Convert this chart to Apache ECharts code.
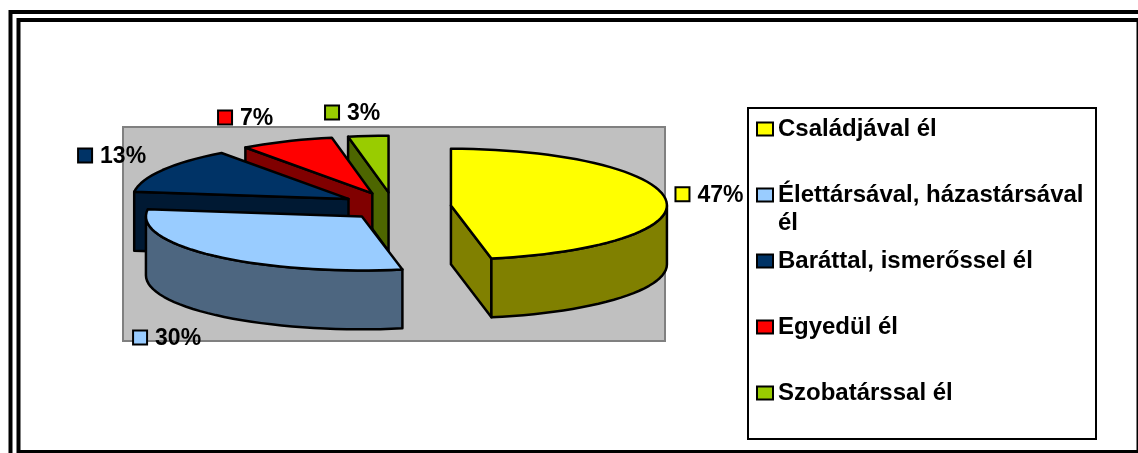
<!DOCTYPE html>
<html>
<head>
<meta charset="utf-8">
<style>
  html, body { margin: 0; padding: 0; background: #fff; }
  #chart { width: 1138px; height: 453px; }
</style>
<script src="https://cdn.jsdelivr.net/npm/echarts@6/dist/echarts.min.js"></script>
</head>
<body>
<div id="chart"></div>
<script>
// adatok
var categories = ['Családjával él', 'Élettársával, házastársával\nél', 'Baráttal, ismerőssel él', 'Egyedül él', 'Szobatárssal él'];
var values = [47, 30, 13, 7, 3];
var topColors = ['#FFFF00', '#99CCFF', '#003366', '#FF0000', '#99CC00'];
var wallColors = ['#808000', '#4D6680', '#001933', '#800000', '#4D6600'];
// a cimke eltolasa a szelet ivetol, pixelben
var labelShift = [[17.5, -6], [-72, 81.6], [-79.5, -17], [-64.5, -27.4], [-39.2, -27.2]];
// kis igazitas a szeleteken, pixelben
var sliceNudge = [[1, 0], [2, 0], [-2, -1], [-3, -1], [-3, -1]];

var FONT = '"Liberation Sans", Arial, sans-serif';
var explode = 0.248;
var depth = 1.09;
var backStretch = 1.05;   // a hatso fel kicsit magasabb, mint a reszben perspektivikus eredeti
var total = values.reduce(function (a, b) { return a + b; }, 0);
var RAD = Math.PI / 180;

function sliceAngles(i) {
  var before = 0;
  for (var k = 0; k < i; k++) before += values[k];
  return [before / total * 360, (before + values[i]) / total * 360];
}

function rimPoint(a, ox, oy, drop) {
  var c = Math.cos(a);
  return [ox + Math.sin(a), oy + (c > 0 ? c * backStretch : c) - drop];
}

function arcPoints(a0, a1, ox, oy, drop) {
  var pts = [];
  var n = Math.max(2, Math.ceil((a1 - a0) / 3));
  for (var k = 0; k <= n; k++) {
    pts.push(rimPoint((a0 + (a1 - a0) * k / n) * RAD, ox, oy, drop));
  }
  return pts;
}

function renderSlice(params, api) {
  var i = params.seriesIndex;
  var ang = sliceAngles(i);
  var a0 = ang[0], a1 = ang[1];
  var mid = (a0 + a1) / 2 * RAD;
  var ox = explode * Math.sin(mid);
  var oy = explode * Math.cos(mid);
  var children = [];
  var nx = sliceNudge[i][0], ny = sliceNudge[i][1];

  function poly(points, fill) {
    children.push({
      type: 'polygon',
      shape: {
        points: points.map(function (p) {
          var c = api.coord(p);
          return [c[0] + nx, c[1] + ny];
        })
      },
      style: { fill: fill, stroke: '#000', lineWidth: 2.5, lineJoin: 'round' }
    });
  }

  // oldalfal a latszo sugarnal
  var wallAngle = Math.sin(a1 * RAD) > 0 && a1 < 180 ? a1 : (Math.sin(a0 * RAD) < 0 ? a0 : null);
  if (wallAngle !== null) {
    var rim = rimPoint(wallAngle * RAD, ox, oy, 0);
    poly([[ox, oy], rim, [rim[0], rim[1] - depth], [ox, oy - depth]], wallColors[i]);
  }
  // kulso iv fala
  var from = Math.max(a0, 90), to = Math.min(a1, 270);
  if (to > from) {
    poly(arcPoints(from, to, ox, oy, 0).concat(arcPoints(from, to, ox, oy, depth).reverse()), wallColors[i]);
  }
  // teteje
  poly([[ox, oy]].concat(arcPoints(a0, a1, ox, oy, 0)), topColors[i]);

  // cimke jelkulccsal
  var anchor = api.coord([ox + Math.sin(mid), oy + Math.cos(mid)]);
  var kx = anchor[0] + labelShift[i][0];
  var ky = anchor[1] + labelShift[i][1];
  children.push({
    type: 'rect',
    shape: { x: kx - 7, y: ky - 7, width: 14, height: 14 },
    style: { fill: topColors[i], stroke: '#000', lineWidth: 2 }
  });
  children.push({
    type: 'text',
    style: {
      text: api.value(2) + '%',
      x: kx + 15,
      y: ky + 1,
      fill: '#000',
      font: 'bold 23px ' + FONT,
      verticalAlign: 'middle'
    }
  });
  return { type: 'group', children: children };
}

var myChart = echarts.init(document.getElementById('chart'));

var option = {
  animation: false,
  backgroundColor: '#fff',
  grid: {
    show: true,
    left: 123, top: 127, width: 542, height: 214,
    backgroundColor: '#C0C0C0',
    borderColor: '#808080',
    borderWidth: 2
  },
  xAxis: { type: 'value', show: false, min: -1.2667, max: 1.2426 },
  yAxis: { type: 'value', show: false, min: -2.4870, max: 1.4759 },
  legend: {
    orient: 'vertical',
    left: 756,
    top: 84,
    z: 10,
    icon: 'rect',
    itemWidth: 16,
    itemHeight: 13,
    itemGap: -24,
    selectedMode: false,
    padding: 0,
    itemStyle: { borderColor: '#000', borderWidth: 2 },
    textStyle: { color: '#000', fontFamily: FONT, fontWeight: 'bold', fontSize: 24, lineHeight: 28, padding: [6, 0, 0, 0] },
    data: categories,
    // ures sor kell, hogy a jel az elso sorral egy vonalban maradjon
    formatter: function (name) {
      return ' \n' + name + (name.indexOf('\n') >= 0 ? '' : '\n ');
    }
  },
  graphic: [
    // dupla keret
    { type: 'rect', z: 0, shape: { x: 10.5, y: 12, width: 1200, height: 1000 }, style: { fill: null, stroke: '#000', lineWidth: 4 } },
    { type: 'rect', z: 0, shape: { x: 18.5, y: 20, width: 1120, height: 432 }, style: { fill: null, stroke: '#000', lineWidth: 4 } },
    // jelmagyarazat doboza
    { type: 'rect', z: 1, shape: { x: 748, y: 108, width: 348, height: 331 }, style: { fill: '#fff', stroke: '#000', lineWidth: 2 } }
  ],
  series: categories.map(function (name, i) {
    return {
      name: name,
      type: 'custom',
      coordinateSystem: 'cartesian2d',
      z: 6 - i,
      silent: true,
      itemStyle: { color: topColors[i] },
      encode: { x: 0, y: 1 },
      renderItem: renderSlice,
      data: [[0, 0, values[i]]]
    };
  })
};

myChart.setOption(option);
</script>
</body>
</html>
